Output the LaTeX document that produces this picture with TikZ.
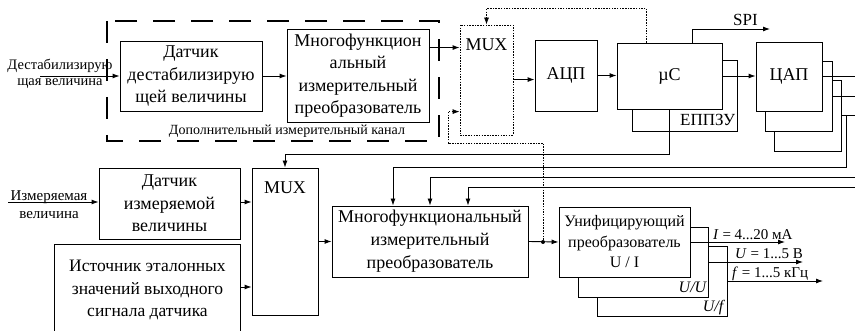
\documentclass[tikz,border=0pt]{standalone}
\usepackage{fontspec}
\setmainfont{Liberation Serif}
\usetikzlibrary{arrows.meta,calc}
\begin{document}
\begin{tikzpicture}[x=1pt,y=-1pt,
  ln/.style={line width=0.9pt},
  box/.style={draw, line width=0.9pt, fill=white, inner sep=0pt, align=center, font=\fontsize{18}{22.5}\selectfont},
  arr/.style={line width=0.9pt, -{Latex[length=7pt,width=5pt]}},
  dotarr/.style={line width=0.8pt, dash pattern=on 1.5pt off 1.2pt, -{Latex[length=7pt,width=5pt]}},
  muxbox/.style={draw, line width=0.8pt, dash pattern=on 1.5pt off 1.2pt, inner sep=0pt},
  lbl/.style={inner sep=0pt, align=center, font=\fontsize{14}{16}\selectfont},
  outl/.style={inner sep=0pt, anchor=base west, font=\fontsize{15}{17}\selectfont}
]
\useasboundingbox (0,0) rectangle (855,331);

% additional channel (dashed frame)
\draw[line width=1.8pt, dash pattern=on 22pt off 16pt] (107,21) rectangle (439,141);
\node[lbl] (addl) at (287,131) {Дополнительный измерительный канал};

% top row
\node[box, minimum width=142pt, minimum height=70pt] (dd) at (191,76) {Датчик\\дестабилизирую\\щей величины};
\node[box, minimum width=142pt, minimum height=93pt] (mfp1) at (358,75.5) {Многофункцион\\альный\\измерительный\\преобразователь};
\node[muxbox, minimum width=53pt, minimum height=110pt] (mux1) at (486.5,80) {};
\node[inner sep=0pt, anchor=north, font=\fontsize{18}{20}\selectfont] (mux1t) at ([yshift=-14pt]mux1.north) {MUX};
\node[box, minimum width=62pt, minimum height=71pt] (adc) at (566,75.5) {АЦП};
\node[box, minimum width=105pt, minimum height=71pt] (eep) at (684.5,95.5) {};
\node[inner sep=0pt, anchor=base east, font=\fontsize{17}{19}\selectfont] (eept) at ([xshift=-2pt,yshift=6pt]eep.south east) {ЕППЗУ};
\node[box, minimum width=105pt, minimum height=66pt] (uc) at (669.5,76) {µC};
\node[box, minimum width=67pt, minimum height=71pt] (dac3) at (807.5,115.5) {};
\node[box, minimum width=67pt, minimum height=70pt] (dac2) at (798.5,96) {};
\node[box, minimum width=66pt, minimum height=69pt] (dac1) at (789,76.5) {ЦАП};

\node[lbl, font=\fontsize{14.5}{16}\selectfont] (in1t) at (60,74) {Дестабилизирую\\щая величина};
\node[inner sep=0pt, anchor=base west, font=\fontsize{17}{19}\selectfont] (spil) at (733,26) {SPI};

% bottom row
\node[box, minimum width=141pt, minimum height=71pt] (sen) at (169.5,203.5) {Датчик\\измеряемой\\величины};
\node[inner sep=0pt, minimum width=185pt, minimum height=90pt, align=center, font=\fontsize{17.5}{22.5}\selectfont] (src) at (147.5,290) {Источник эталонных\\значений выходного\\сигнала датчика};
\draw[ln] (src.south west) -- (src.north west) -- (src.north east) -- (src.south east);
\node[box, minimum width=66pt, minimum height=147pt] (mux2) at (285,241.5) {};
\node[inner sep=0pt, anchor=north, font=\fontsize{18}{20}\selectfont] (mux2t) at ([yshift=-14pt]mux2.north) {MUX};
\node[box, minimum width=196pt, minimum height=71pt, font=\fontsize{18}{23}\selectfont] (mfp2) at (430,241.5) {Многофункциональный\\измерительный\\преобразователь};
\node[box, minimum width=130pt, minimum height=70pt] (uni3) at (662,281) {};
\node[box, minimum width=130pt, minimum height=70pt] (uni2) at (643,262) {};
\node[box, minimum width=131pt, minimum height=70pt, font=\fontsize{16}{20.5}\selectfont] (uni1) at (624.5,242) {Унифицирующий\\преобразователь\\U / I};
\node[inner sep=0pt, anchor=base east, font=\fontsize{16}{18}\selectfont\itshape] (uut) at ([xshift=-2pt,yshift=5pt]uni2.south east) {U/U};
\node[inner sep=0pt, anchor=base east, font=\fontsize{16}{18}\selectfont\itshape] (uft) at ([xshift=-4pt,yshift=5pt]uni3.south east) {U/f};

\node[lbl, font=\fontsize{15}{18}\selectfont] (in2t) at (49,205) {Измеряемая\\величина};

\node[circle, fill, inner sep=0pt, minimum size=4pt] (jn) at (543,242) {};

% helper coordinates
\coordinate (in1) at (40,76);
\coordinate (in2) at (8,202);
\coordinate (m1a) at ([yshift=-19pt]mfp1.north east);
\coordinate (m1b) at ([yshift=-40pt]adc.north west);
\coordinate (m1c) at ([yshift=-87pt]mux1.north west);
\coordinate (spi) at (770,29);
\coordinate (R) at (855,0);
\coordinate (f2) at (855,177);
\coordinate (f3) at (855,187);
\coordinate (s1) at ([yshift=3pt]src.east);
\coordinate (o1) at (785,242);
\coordinate (o2) at (803,262);
\coordinate (o3) at (823,281);

% connectors, top
\draw[arr] (in1) -- (dd.west);
\draw[arr] (dd.east) -- (dd.east -| mfp1.west);
\draw[arr] (m1a) -- (m1a -| mux1.west);
\draw[arr] (m1b -| mux1.east) -- (m1b);
\draw[arr] (adc.east) -- (adc.east -| uc.west);
\draw[arr] (uc.east) -- (uc.east -| dac1.west);
\draw[arr] ([xshift=-30pt]uc.north east) |- (spi);
\draw[dotarr] ([xshift=30pt]uc.north west) -- ++(0,-34) -| (mux1.north);
\draw[dotarr] (jn) -- ++(0,-99) -- ++(-95,0) |- (m1c);
\draw[arr] (uc.south) -- ++(0,45) -| (mux2.north);

% DAC outputs and feedback
\draw[ln] (dac1.east) -- (dac1.east -| R);
\draw[ln] (dac2.east) -- (dac2.east -| R);
\draw[ln] (dac3.east) -- (dac3.east -| R);
\draw[arr] ([xshift=5pt]dac3.east) -- ++(0,52) -| ([xshift=-37pt]mfp2.north);
\draw[arr] (f2) -| (mfp2.north);
\draw[arr] (f3) -| ([xshift=38pt]mfp2.north);

% connectors, bottom
\draw[arr] (in2) -- (in2 -| sen.west);
\draw[arr] (in2 -| sen.east) -- (in2 -| mux2.west);
\draw[arr] (s1) -- (s1 -| mux2.west);
\draw[arr] (mfp2.west -| mux2.east) -- (mfp2.west);
\draw[arr] (mfp2.east) -- (uni1.west);
\draw[arr] (uni1.east) -- (o1);
\draw[arr] (uni2.east) -- (o2);
\draw[arr] (uni3.east) -- (o3);

\node[outl] (o1t) at (713,240) {\textit{I} = 4...20 мА};
\node[outl] (o2t) at (735,259) {\textit{U} = 1...5 В};
\node[outl] (o3t) at (732,278) {\textit{f} = 1...5 кГц};
\end{tikzpicture}
\end{document}
